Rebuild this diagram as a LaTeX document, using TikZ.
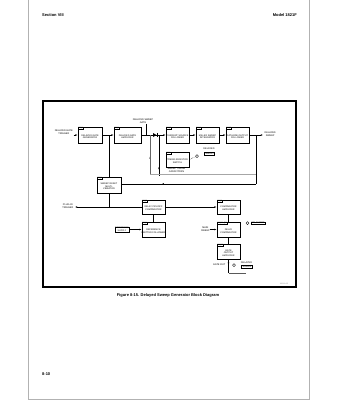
\documentclass[tikz,border=0pt]{standalone}
\usepackage{fontspec}
\setmainfont{Liberation Sans}
\usetikzlibrary{arrows.meta,decorations.markings}
\tikzset{
  blk/.style={draw, line width=0.8pt, minimum width=23pt, minimum height=15pt, inner sep=0pt},
  tg/.style={draw, line width=0.35pt, font=\fontsize{1.8}{2}\selectfont, inner xsep=0.5pt, inner ysep=0.5pt, anchor=north west},
  bt/.style={font=\fontsize{2.3}{2.7}\selectfont, align=center, inner sep=0pt},
  lbl/.style={font=\fontsize{2.4}{2.8}\selectfont, align=center, inner sep=0pt},
  boxlbl/.style={draw, line width=0.3pt, font=\fontsize{2.2}{2.6}\selectfont, align=center, inner sep=0.5pt},
  ln/.style={line width=0.45pt},
  arr/.style={ln, -{Latex[length=2.2pt,width=1.7pt]}},
  midarr/.style={ln, postaction={decorate, decoration={markings, mark=at position #1 with {\arrow{Latex[length=2.2pt,width=1.8pt]}}}}},
  knob/.style={draw, circle, line width=0.35pt, minimum size=3pt, inner sep=0pt},
  hdr/.style={font=\fontsize{4}{4.5}\selectfont\bfseries, inner sep=0pt},
}
\begin{document}
\begin{tikzpicture}[x=1pt,y=-1pt]
\useasboundingbox (0,0) rectangle (339,400);
% page edge
\draw[gray!60, line width=0.6pt] (28,-2) -- (28,399) -- (309,399) -- (309,-2);
\node[hdr, anchor=west] (sec) at (42,15) {Section VIII};
\node[hdr, anchor=east] (mod) at (297,15) {Model 1821F};
% diagram frame
\draw[line width=1.4pt] (43,101) rectangle (296,287);
\node[font=\fontsize{1.8}{2}\selectfont, text=gray, inner sep=0pt] (fid) at (284,283.5) {1821-A-15};
\node[hdr] (cap) at (168,295) {Figure 8-15. Delayed Sweep Generator Block Diagram};
\node[hdr, anchor=west] (pg) at (42,374) {8-10};

% ---------- row 1 ----------
\node[lbl, anchor=east] (in1) at (73,132.5) {DELAYED GATE\\TRIGGER};
\node[blk, minimum width=24pt, minimum height=16pt] (b1) at (90,135) {};
\node[tg] (b1t) at (b1.north west) {A9Q1};
\node[bt] (b1x) at ([yshift=-1.6pt]b1.center) {DELAYED GATE\\GENERATOR};
\coordinate (in1e) at (73.5,135);
\draw[arr] (in1e) -- (b1.west);

\node[blk, minimum width=27pt, minimum height=16pt] (b2) at (127.5,135) {};
\node[tg] (b2t) at (b2.north west) {A9Q2};
\node[bt] (b2x) at ([yshift=-1.6pt]b2.center) {DELAYED GATE\\AMPLIFIER};
\draw[arr] (b1.east) -- (b2.west);

\node[lbl] (gate) at (143,121.5) {DELAYED SWEEP\\GATE};
\coordinate (g1) at (146,135);
\draw[ln] (gate.south -| g1) -- (g1);

\node[blk, minimum width=23pt, minimum height=16pt] (b3) at (177.5,135) {};
\node[tg] (b3t) at (b3.north west) {A9Q3};
\node[bt] (b3x) at ([yshift=-1.6pt]b3.center) {CURRENT SOURCE\\FOLLOWER};
\draw[arr] (b2.east) -- (b3.west);
% diode
\fill (153,133) -- (153,137) -- (156.5,135) -- cycle;
\draw[line width=0.6pt] (156.8,132.8) -- (156.8,137.2);

\node[blk, minimum width=23pt, minimum height=16pt] (b4) at (207.5,135) {};
\node[tg] (b4t) at (b4.north west) {A9Q4};
\node[bt] (b4x) at ([yshift=-1.6pt]b4.center) {MILLER SWEEP\\INTEGRATOR};
\draw[arr] (b3.east) -- (b4.west);

\node[blk, minimum width=23pt, minimum height=16pt] (b5) at (237.5,135) {};
\node[tg] (b5t) at (b5.north west) {A9Q5};
\node[bt] (b5x) at ([yshift=-1.6pt]b5.center) {CATHODE OUTPUT\\FOLLOWER};
\draw[arr] (b4.east) -- (b5.west);

\coordinate (out1) at (263,135);
\draw[arr] (b5.east) -- (out1);
\node[lbl, anchor=west] (out1l) at (264.5,134.5) {DELAYED\\SWEEP};

% timing section
\coordinate (t1a) at (150,135);
\coordinate (t1b) at (150,174);
\coordinate (t2a) at (159,135);
\coordinate (t2b) at (159,176);
\draw[midarr=0.45, gray!80!black] (t1b) -- (t1a);
\draw[midarr=0.85] (t2a) -- (t2b);
\coordinate (t3) at (256,174);
\draw[ln, gray!70] (t1b) -- (t3);

\node[blk, minimum width=23pt, minimum height=15pt] (b6) at (177.5,159.5) {};
\node[tg] (b6t) at (b6.north west) {A9S1};
\node[bt] (b6x) at ([yshift=-1.5pt]b6.center) {TIMING RESISTOR\\SWITCH};
\node[lbl] (caps) at (176.5,170.5) {SWEEP TIMING\\CAPACITORS};
\node[knob] (k1) at (197,156) {};
\node[lbl] (k1a) at (209,149) {DELAYED};
\node[boxlbl] (k1b) at (209,153.5) {TIME/DIV};
\draw[ln, densely dotted] (k1) -- (b6.east);

% feedback from output to reset
\coordinate (fb1) at (256,135);
\coordinate (fb2) at (256,184);
\node[blk, minimum width=24pt, minimum height=16pt] (b7h) at (109,185) {};
\node[tg] (b7ht) at (b7h.north west) {A9Q6};
\node[bt] (b7hx) at ([yshift=-1.5pt]b7h.center) {SWEEP RESET\\MULTI-\\VIBRATOR};
\draw[ln] (fb1) -- (fb2);
\draw[midarr=0.7] (fb2) -- (fb2 -| b7h.east);

\coordinate (j1) at (b7h.north |- b1.east);
\draw[ln] (j1) -- (b7h.north);

% ---------- row 3 ----------
\node[blk, minimum width=23pt, minimum height=14pt] (b7) at (153.5,207) {};
\node[tg] (b7t) at (b7.north west) {A9Q7};
\node[bt] (b7x) at ([yshift=-1.4pt]b7.center) {DELAY PICKOFF\\COMPARATOR};
\coordinate (j2) at (b7h.south |- b7.west);
\draw[ln] (b7h.south) -- (j2);
\coordinate (out2) at (75,207);
\draw[arr] (b7.west) -- (out2);
\node[lbl, anchor=east] (out2l) at (73.5,206.5) {PLUG-IN\\TRIGGER};

\node[blk, minimum width=23pt, minimum height=14pt] (b8) at (228.5,207) {};
\node[tg] (b8t) at (b8.north west) {A9Q8};
\node[bt] (b8x) at ([yshift=-1.4pt]b8.center) {COMPARATOR\\AMPLIFIER};
\draw[arr] (b7.east) -- (b8.west);

\node[blk, minimum width=23pt, minimum height=15pt] (b9) at (153.5,229.5) {};
\node[tg] (b9t) at (b9.north west) {A9Q9};
\node[bt] (b9x) at ([yshift=-1.5pt]b9.center) {REFERENCE\\EMITTER FOLLOWER};
\draw[ln] (b9.north) -- (b7.south);
\node[boxlbl] (ref) at (122,229.5) {REFERENCE\\SUPPLY};
\draw[arr] (ref.east) -- (b9.west);

\node[blk, minimum width=23pt, minimum height=15pt] (b10) at (228.5,229.5) {};
\node[tg] (b10t) at (b10.north west) {A9Q10, Q11};
\node[bt] (b10x) at ([yshift=-1.5pt]b10.center) {DELAY\\COMPARATOR};
\draw[ln] (b8.south) -- (b10.north);
\node[lbl, anchor=east] (ms) at (210,229.5) {MAIN\\SWEEP};
\draw[arr] (ms.east) -- (b10.west);
\node[knob] (k2) at (247.5,223) {};
\node[boxlbl, anchor=west] (k2b) at (251,223) {DELAY TIME};

\node[blk, minimum width=23pt, minimum height=15pt] (b11) at (228.5,251.5) {};
\node[tg] (b11t) at (b11.north west) {A9Q12};
\node[bt] (b11x) at ([yshift=-1.5pt]b11.center) {GATE\\OUTPUT\\AMPLIFIER};
\draw[ln] (b10.south) -- (b11.north);

\coordinate (s1) at (228.5,273);
\coordinate (s2) at (246,273);
\draw[midarr=0.4] (b11.south) -- (s1);
\draw[ln, gray!70!black] (s1) -- (s2);
\node[knob] (k3) at (234,265) {};
\node[lbl, anchor=east] (go) at (225.5,264.5) {GATE OUT};
\node[lbl] (k3a) at (246.5,262.5) {DELAYED};
\node[boxlbl] (k3b) at (246.5,266.5) {TRIGGER};
\end{tikzpicture}
\end{document}
